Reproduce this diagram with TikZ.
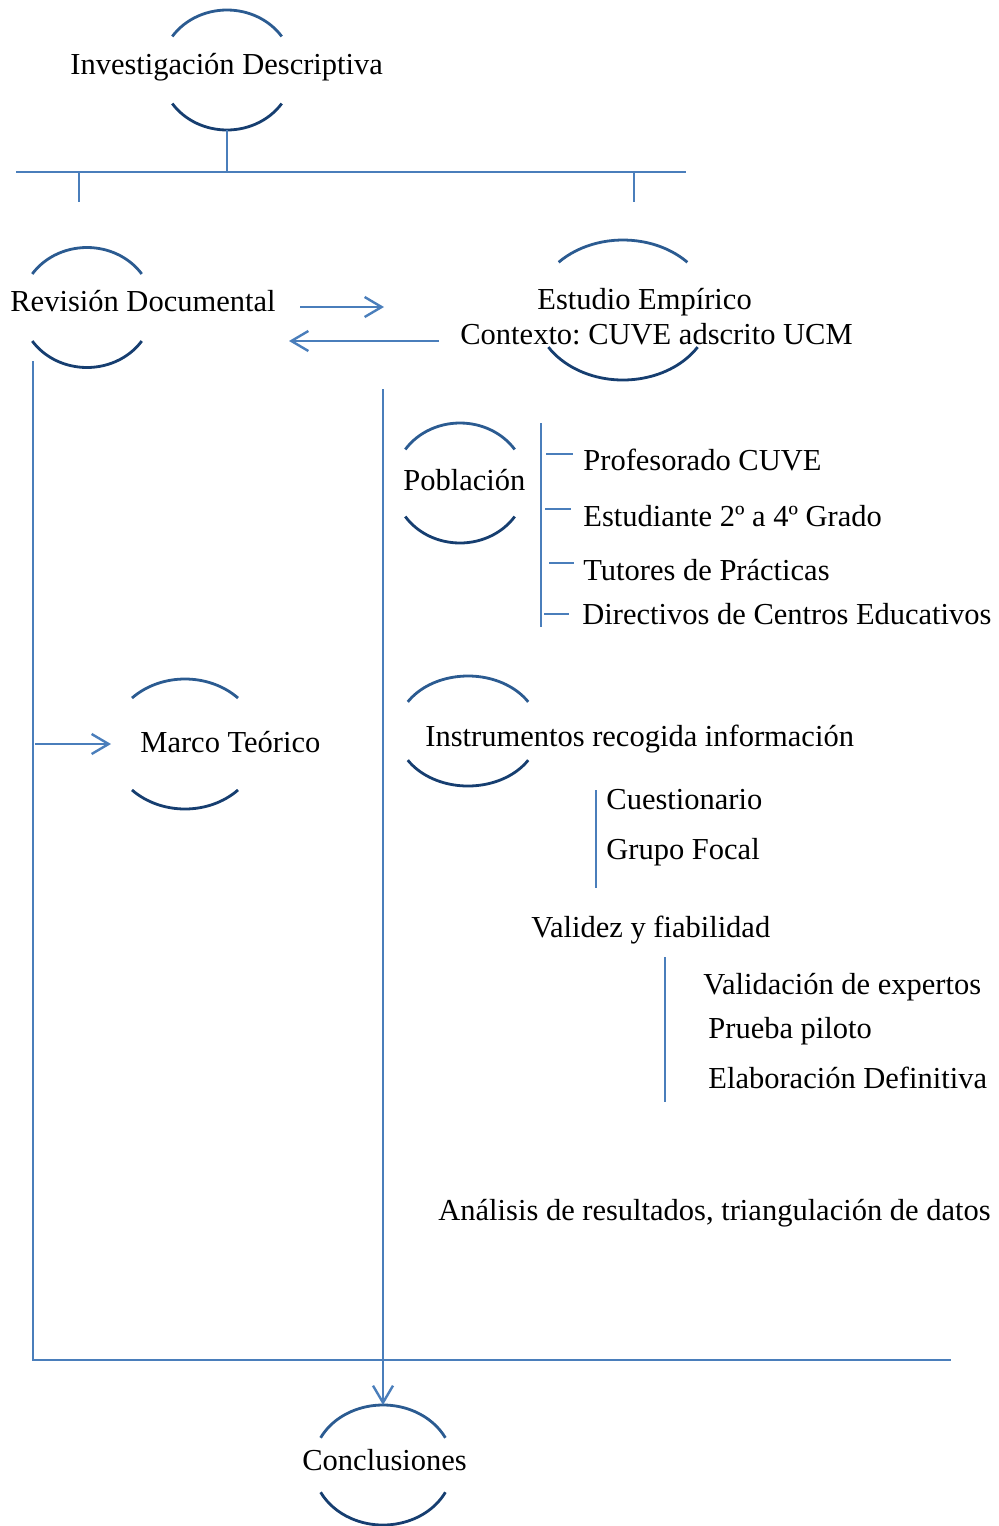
\documentclass[tikz,border=0pt]{standalone}
\usepackage{fontspec}
\setmainfont{Liberation Serif}
\usetikzlibrary{arrows.meta}
\frenchspacing

\definecolor{linkblue}{HTML}{4A7EBB}
\definecolor{ringtop}{HTML}{2B5B91}
\definecolor{ringbot}{HTML}{163E70}

\tikzset{
  lbl/.style={anchor=base west, inner sep=0pt, text=black,
              font=\fontsize{15.25pt}{18pt}\selectfont},
  link/.style={draw=linkblue, line width=1.2pt},
  tip/.style={-{Straight Barb[length=8.5pt,width=10pt]}},
  ringup/.style={draw=ringtop, line width=1.4pt},
  ringdown/.style={draw=ringbot, line width=1.4pt}
}

% open ring drawn as a top and a bottom arc around a named centre
% #1 centre, #2 x radius, #3 y radius, #4 top half-gap angle, #5 bottom half-gap angle
\newcommand\ringpair[5]{%
  \draw[ringup] ([shift={({#2*cos(180+#4)},{#3*sin(180+#4)})}]#1)
    arc[start angle=180+#4, end angle=360-#4, x radius=#2, y radius=#3];
  \draw[ringdown] ([shift={({#2*cos(#5)},{#3*sin(#5)})}]#1)
    arc[start angle=#5, end angle=180-#5, x radius=#2, y radius=#3];
}

\begin{document}
\begin{tikzpicture}[x=0.5pt, y=-0.5pt]
\useasboundingbox (0,0) rectangle (998,1526);

% ring centres
\coordinate (id-c) at (227,70);
\coordinate (rd-c) at (87,307.5);
\coordinate (ee-c) at (623,310);
\coordinate (po-c) at (460,483);
\coordinate (mt-c) at (185,744);
\coordinate (ir-c) at (468,731);
\coordinate (co-c) at (383,1465);

\ringpair{id-c}{66}{60}{34}{34}
\ringpair{rd-c}{66}{60}{34}{34}
\ringpair{ee-c}{88}{70}{43}{32}
\ringpair{po-c}{66}{60}{34}{34}
\ringpair{mt-c}{75}{65}{45}{45}
\ringpair{ir-c}{71}{55}{32}{32}
\ringpair{co-c}{70}{60}{27}{27}

% labels
\node[lbl] (id) at (70,74) {Investigación Descriptiva};
\node[lbl] (rd) at (10,311) {Revisión Documental};
\node[lbl] (ee1) at (537,309) {Estudio Empírico};
\node[lbl] (ee2) at (460,344) {Contexto: CUVE adscrito UCM};
\node[lbl] (po) at (403,490) {Población};
\node[lbl] (po1) at (583,470) {Profesorado CUVE};
\node[lbl] (po2) at (583,526) {Estudiante 2º a 4º Grado};
\node[lbl] (po3) at (583,580) {Tutores de Prácticas};
\node[lbl] (po4) at (582,624) {Directivos de Centros Educativos};
\node[lbl] (mt) at (140,752) {Marco Teórico};
\node[lbl] (ir) at (425,746) {Instrumentos recogida información};
\node[lbl] (ir1) at (606,809) {Cuestionario};
\node[lbl] (ir2) at (606,859) {Grupo Focal};
\node[lbl] (vf) at (531,937) {Validez y fiabilidad};
\node[lbl] (vf1) at (703,994) {Validación de expertos};
\node[lbl] (vf2) at (708,1038) {Prueba piloto};
\node[lbl] (vf3) at (708,1088) {Elaboración Definitiva};
\node[lbl] (an) at (438,1220) {Análisis de resultados, triangulación de datos};
\node[lbl] (co) at (302,1470) {Conclusiones};

% junction points
\coordinate (id-s) at (227,130);
\coordinate (bar-m) at (227,172);
\coordinate (bar-l) at (16,172);
\coordinate (bar-r) at (686,172);
\coordinate (tick-l) at (79,172);
\coordinate (tick-l2) at (79,202);
\coordinate (tick-r) at (634,172);
\coordinate (tick-r2) at (634,202);
\coordinate (rt-a) at (300,307);
\coordinate (rt-b) at (384,307);
\coordinate (lt-a) at (439,341);
\coordinate (lt-b) at (289,341);
\coordinate (left-top) at (33,361);
\coordinate (left-bot) at (33,1360);
\coordinate (base-r) at (951,1360);
\coordinate (mt-a) at (35,744);
\coordinate (mt-b) at (111,744);
\coordinate (mid-top) at (383,389);
\coordinate (co-top) at (383,1405);
\coordinate (po-b1) at (541,423);
\coordinate (po-b2) at (541,627);
\coordinate (ir-b1) at (596,790);
\coordinate (ir-b2) at (596,888);
\coordinate (vf-b1) at (665,957);
\coordinate (vf-b2) at (665,1102);

% tree at the top
\draw[link] (id-s) -- (bar-m);
\draw[link] (bar-l) -- (bar-r);
\draw[link] (tick-l) -- (tick-l2);
\draw[link] (tick-r) -- (tick-r2);

% exchange between the two branches
\draw[link, tip] (rt-a) -- (rt-b);
\draw[link, tip] (lt-a) -- (lt-b);

% left branch
\draw[link] (left-top) -- (left-bot) -- (base-r);
\draw[link, tip] (mt-a) -- (mt-b);

% central branch down to the conclusions
\draw[link, tip] (mid-top) -- (co-top);

% population bracket and dashes
\draw[link] (po-b1) -- (po-b2);
\draw[link] (546,454) -- (573,454);
\draw[link] (545,509) -- (571,509);
\draw[link] (549,563) -- (574,563);
\draw[link] (544,614) -- (569,614);

% instruments and validity brackets
\draw[link] (ir-b1) -- (ir-b2);
\draw[link] (vf-b1) -- (vf-b2);
\end{tikzpicture}
\end{document}
